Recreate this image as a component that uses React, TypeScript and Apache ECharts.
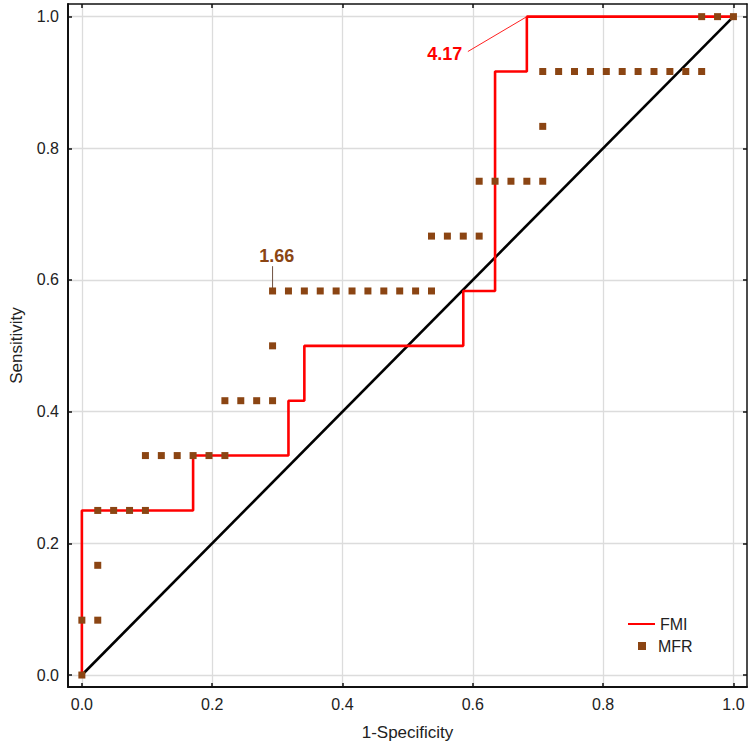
import React, { useEffect, useRef } from "react";
import * as echarts from "echarts";

// ROC data: counts of false positives (of 41 negatives)
// and true positives (of 12 positives)
const NEGATIVES = 41;
const POSITIVES = 12;

const fmiFP = [0, 0, 7, 7, 13, 13, 14, 14, 24, 24, 26, 26, 28, 28, 41];
const fmiTP = [0, 3, 3, 4, 4, 5, 5, 6, 6, 7, 7, 11, 11, 12, 12];

const mfrFP = [
  0, 0, 1, 1, 1, 2, 3, 4, 4, 5, 6, 7, 8, 9, 9, 10, 11, 12, 12, 12, 13, 14, 15, 16, 17, 18, 19, 20, 21, 22,
  22, 23, 24, 25, 25, 26, 27, 28, 29, 29, 29, 30, 31, 32, 33, 34, 35, 36, 37, 38, 39, 39, 40, 41,
];
const mfrTP = [
  0, 1, 1, 2, 3, 3, 3, 3, 4, 4, 4, 4, 4, 4, 5, 5, 5, 5, 6, 7, 7, 7, 7, 7, 7, 7, 7, 7, 7, 7,
  8, 8, 8, 8, 9, 9, 9, 9, 9, 10, 11, 11, 11, 11, 11, 11, 11, 11, 11, 11, 11, 12, 12, 12,
];

const diagX = [0, 1];
const diagY = [0, 1];

const tickValues = [0, 0.2, 0.4, 0.6, 0.8, 1.0];

// cut-off annotations
const annTexts = ["4.17", "1.66"];
const annX = [0.557, 0.299];
const annY = [0.944, 0.636];
const annColors = ["#ff0000", "#8B4513"];
const lead417X = [0.5924, 28 / 41];
const lead417Y = [0.947, 1.0];
const lead166X = [12 / 41, 12 / 41];
const lead166Y = [0.621, 0.5876];

const FONT = "'Liberation Sans', Arial, Helvetica, sans-serif";

export default function App() {
  const ref = useRef<HTMLDivElement>(null);
  useEffect(() => {
    document.body.style.margin = "0";
    if (!ref.current) return;
    const chart = echarts.init(ref.current, undefined, { renderer: "svg" });

    const fmi = fmiFP.map((v, i) => [v / NEGATIVES, fmiTP[i] / POSITIVES]);
    const mfr = mfrFP.map((v, i) => [v / NEGATIVES, mfrTP[i] / POSITIVES]);
    const diag = diagX.map((v, i) => [v, diagY[i]]);

    const xMin = -0.02127;
    const xMax = 1.0208;
    const yMin = -0.01817;
    const yMax = 1.0192;

    const labelStyle = { color: "#222", fontSize: 16, fontFamily: FONT };

    const option: any = {
      animation: false,
      backgroundColor: "#ffffff",
      textStyle: { fontFamily: FONT },
      grid: { left: 61, right: 3, top: 4, bottom: 57, containLabel: false },
      xAxis: [
        {
          type: "value",
          min: xMin,
          max: xMax,
          position: "bottom",
          name: "1-Specificity",
          nameLocation: "middle",
          nameGap: 37,
          nameTextStyle: { color: "#222", fontSize: 17, fontFamily: FONT },
          axisLine: { show: true, onZero: false, lineStyle: { color: "#111", width: 2 } },
          axisTick: { show: true, inside: true, length: 4, customValues: tickValues, lineStyle: { color: "#111", width: 1.5 } },
          axisLabel: { ...labelStyle, margin: 9, customValues: tickValues, formatter: (v: number) => v.toFixed(1) },
          splitLine: { show: true, lineStyle: { color: "#dcdcdc", width: 1.3 } },
        },
        {
          type: "value",
          min: xMin,
          max: xMax,
          position: "top",
          axisLine: { show: true, onZero: false, lineStyle: { color: "#111", width: 1.5 } },
          axisTick: { show: true, inside: true, length: 4, customValues: tickValues, lineStyle: { color: "#111", width: 1.5 } },
          axisLabel: { show: false },
          splitLine: { show: false },
        },
      ],
      yAxis: [
        {
          type: "value",
          min: yMin,
          max: yMax,
          position: "left",
          name: "Sensitivity",
          nameLocation: "middle",
          nameGap: 43,
          nameTextStyle: { color: "#222", fontSize: 17, fontFamily: FONT },
          axisLine: { show: true, onZero: false, lineStyle: { color: "#111", width: 2 } },
          axisTick: { show: true, inside: true, length: 4, customValues: tickValues, lineStyle: { color: "#111", width: 1.5 } },
          axisLabel: { ...labelStyle, margin: 9, customValues: tickValues, formatter: (v: number) => v.toFixed(1) },
          splitLine: { show: true, lineStyle: { color: "#dcdcdc", width: 1.3 } },
        },
        {
          type: "value",
          min: yMin,
          max: yMax,
          position: "right",
          axisLine: { show: true, onZero: false, lineStyle: { color: "#111", width: 1.5 } },
          axisTick: { show: true, inside: true, length: 4, customValues: tickValues, lineStyle: { color: "#111", width: 1.5 } },
          axisLabel: { show: false },
          splitLine: { show: false },
        },
      ],
      legend: [
        {
          data: [{ name: "FMI", itemStyle: { opacity: 0 } }],
          left: 627,
          top: 616,
          padding: 0,
          itemWidth: 27,
          itemHeight: 10,
          textStyle: { color: "#222", fontSize: 16, fontFamily: FONT },
          selectedMode: false,
        },
        {
          data: [{ name: "MFR", icon: "rect", itemStyle: { opacity: 1 } }],
          left: 638,
          top: 638,
          padding: 0,
          itemWidth: 8,
          itemHeight: 8,
          textStyle: { color: "#222", fontSize: 16, fontFamily: FONT, padding: [0, 0, 0, 7] },
          selectedMode: false,
        },
      ],
      series: [
        {
          name: "diagonal",
          type: "line",
          data: diag,
          symbol: "none",
          lineStyle: { color: "#000", width: 2.6 },
          silent: true,
          z: 2,
        },
        {
          name: "FMI",
          type: "line",
          data: fmi,
          symbol: "none",
          lineStyle: { color: "#ff0000", width: 2.6 },
          itemStyle: { color: "#ff0000" },
          z: 3,
        },
        {
          name: "MFR",
          type: "scatter",
          data: mfr,
          symbol: "rect",
          symbolSize: 7,
          itemStyle: { color: "#8B4513", opacity: 1 },
          z: 4,
        },
        {
          name: "lead417",
          type: "line",
          data: lead417X.map((v, i) => [v, lead417Y[i]]),
          symbol: "none",
          lineStyle: { color: "#ff2020", width: 1 },
          silent: true,
          z: 3,
        },
        {
          name: "lead166",
          type: "line",
          data: lead166X.map((v, i) => [v, lead166Y[i]]),
          symbol: "none",
          lineStyle: { color: "#6e5040", width: 1 },
          silent: true,
          z: 3,
        },
        {
          name: "annotations",
          type: "scatter",
          symbolSize: 0,
          silent: true,
          z: 5,
          itemStyle: { opacity: 1 },
          data: annTexts.map((t, i) => ({
            value: [annX[i], annY[i]],
            label: {
              show: true,
              position: "inside",
              formatter: t,
              color: annColors[i],
              fontSize: 18,
              fontWeight: "bold",
              fontFamily: FONT,
            },
          })),
        },
      ],
    };
    chart.setOption(option);
    return () => chart.dispose();
  }, []);
  return <div ref={ref} style={{ width: 750, height: 746 }} />;
}
